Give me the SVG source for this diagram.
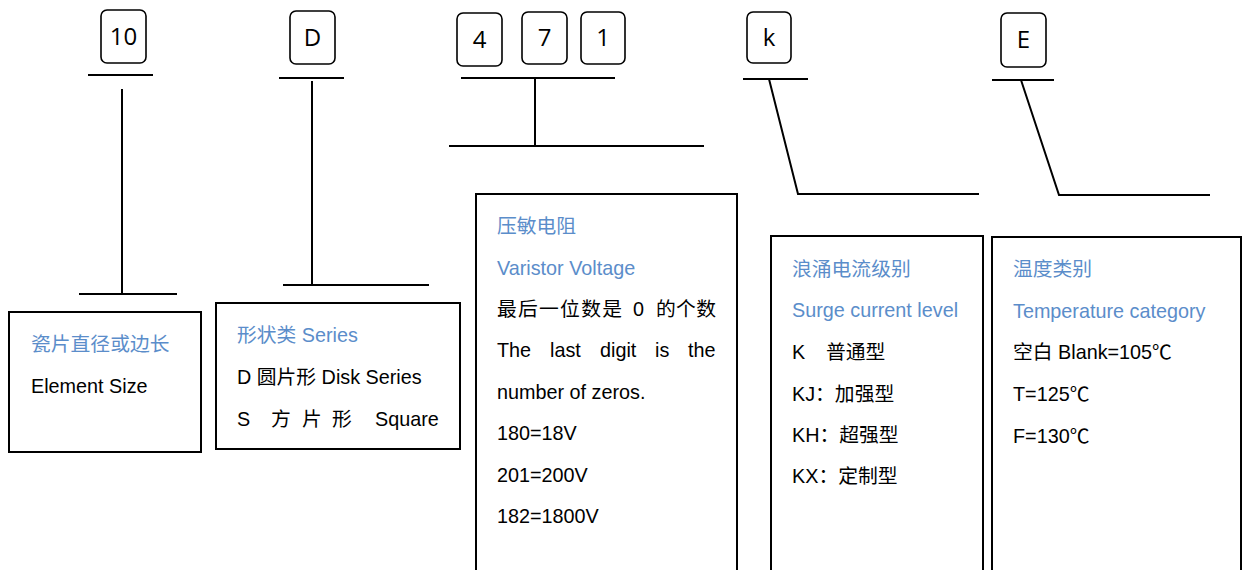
<svg xmlns="http://www.w3.org/2000/svg" width="1242" height="570" viewBox="0 0 1242 570">
<style>
.bg{fill:#fff}
.code{fill:#fff;stroke:#000;stroke-width:1.6}
.codeT{font-family:"Open Sans","Liberation Sans",sans-serif;font-size:24px;fill:#000;text-anchor:middle}
.box{fill:#fff;stroke:#000;stroke-width:2}
.ln{stroke:#000;stroke-width:2;fill:none}
.t{font-family:"Liberation Sans","Noto Sans CJK SC",sans-serif;font-size:19.8px;fill:#000}
.b{fill:#5B8DCA}
</style>
<rect class="bg" x="0" y="0" width="1242" height="570"/>
<g id="connectors">
<line class="ln" x1="88" y1="75" x2="153" y2="75"/>
<line class="ln" x1="122" y1="89" x2="122" y2="294"/>
<line class="ln" x1="79" y1="294" x2="177" y2="294"/>
<line class="ln" x1="279" y1="78" x2="344" y2="78"/>
<line class="ln" x1="312" y1="81" x2="312" y2="285"/>
<line class="ln" x1="283" y1="285" x2="429" y2="285"/>
<line class="ln" x1="461" y1="78" x2="615" y2="78"/>
<line class="ln" x1="535" y1="78" x2="535" y2="146"/>
<line class="ln" x1="449" y1="146" x2="704" y2="146"/>
<line class="ln" x1="743" y1="79" x2="808" y2="79"/>
<polyline class="ln" points="769,79 798,194 979,194"/>
<line class="ln" x1="992" y1="80" x2="1054" y2="80"/>
<polyline class="ln" points="1021,80 1059,195 1210,195"/>
</g>
<g id="code-10"><rect class="code" x="101" y="10" width="45" height="53" rx="6"/><text class="codeT" x="123.5" y="45">10</text></g>
<g id="code-D"><rect class="code" x="290" y="11" width="45" height="53" rx="6"/><text class="codeT" x="312.5" y="46">D</text></g>
<g id="code-4"><rect class="code" x="457" y="13" width="45" height="53" rx="6"/><text class="codeT" x="479.5" y="48">4</text></g>
<g id="code-7"><rect class="code" x="522" y="12" width="45" height="52" rx="6"/><text class="codeT" x="544.5" y="46">7</text></g>
<g id="code-1"><rect class="code" x="581" y="12" width="44" height="52" rx="6"/><text class="codeT" x="603" y="46">1</text></g>
<g id="code-k"><rect class="code" x="747" y="12" width="44" height="51" rx="6"/><text class="codeT" x="769" y="46">k</text></g>
<g id="code-E"><rect class="code" x="1001" y="13" width="45" height="54" rx="6"/><text class="codeT" x="1023.5" y="48">E</text></g>

<g id="element-size">
<rect class="box" x="9" y="312" width="192" height="140"/>
<text class="t b" x="31" y="351">瓷片直径或边长</text>
<text class="t" x="31" y="393">Element Size</text>
</g>
<g id="series">
<rect class="box" x="216" y="303" width="244" height="146"/>
<text class="t b" x="237" y="342">形状类 Series</text>
<text class="t" x="237" y="384">D 圆片形 Disk Series</text>
<text class="t" y="426"><tspan x="237">S</tspan><tspan x="271">方</tspan><tspan x="302">片</tspan><tspan x="332">形</tspan><tspan x="375">Square</tspan></text>
</g>
<g id="varistor-voltage">
<rect class="box" x="476" y="194" width="261" height="390"/>
<text class="t b" x="497" y="233">压敏电阻</text>
<text class="t b" x="497" y="275">Varistor Voltage</text>
<text class="t" y="316"><tspan x="497" textLength="125" lengthAdjust="spacing">最后一位数是</tspan><tspan x="633">0</tspan><tspan x="656" textLength="60" lengthAdjust="spacing">的个数</tspan></text>
<text class="t" y="357"><tspan x="497">The</tspan><tspan x="550">last</tspan><tspan x="600">digit</tspan><tspan x="655">is</tspan><tspan x="688">the</tspan></text>
<text class="t" x="497" y="399">number of zeros.</text>
<text class="t" x="497" y="440">180=18V</text>
<text class="t" x="497" y="482">201=200V</text>
<text class="t" x="497" y="523">182=1800V</text>
</g>
<g id="surge-current">
<rect class="box" x="771" y="236" width="212" height="350"/>
<text class="t b" x="792" y="276">浪涌电流级别</text>
<text class="t b" x="792" y="317">Surge current level</text>
<text class="t" y="359"><tspan x="792">K</tspan><tspan x="826">普通型</tspan></text>
<text class="t" x="792" y="401">KJ：加强型</text>
<text class="t" x="792" y="442">KH：超强型</text>
<text class="t" x="792" y="483">KX：定制型</text>
</g>
<g id="temperature">
<rect class="box" x="992" y="237" width="249" height="350"/>
<text class="t b" x="1013" y="276">温度类别</text>
<text class="t b" x="1013" y="318">Temperature category</text>
<text class="t" x="1013" y="359">空白 Blank=105℃</text>
<text class="t" x="1013" y="401">T=125℃</text>
<text class="t" x="1013" y="443">F=130℃</text>
</g>
</svg>
